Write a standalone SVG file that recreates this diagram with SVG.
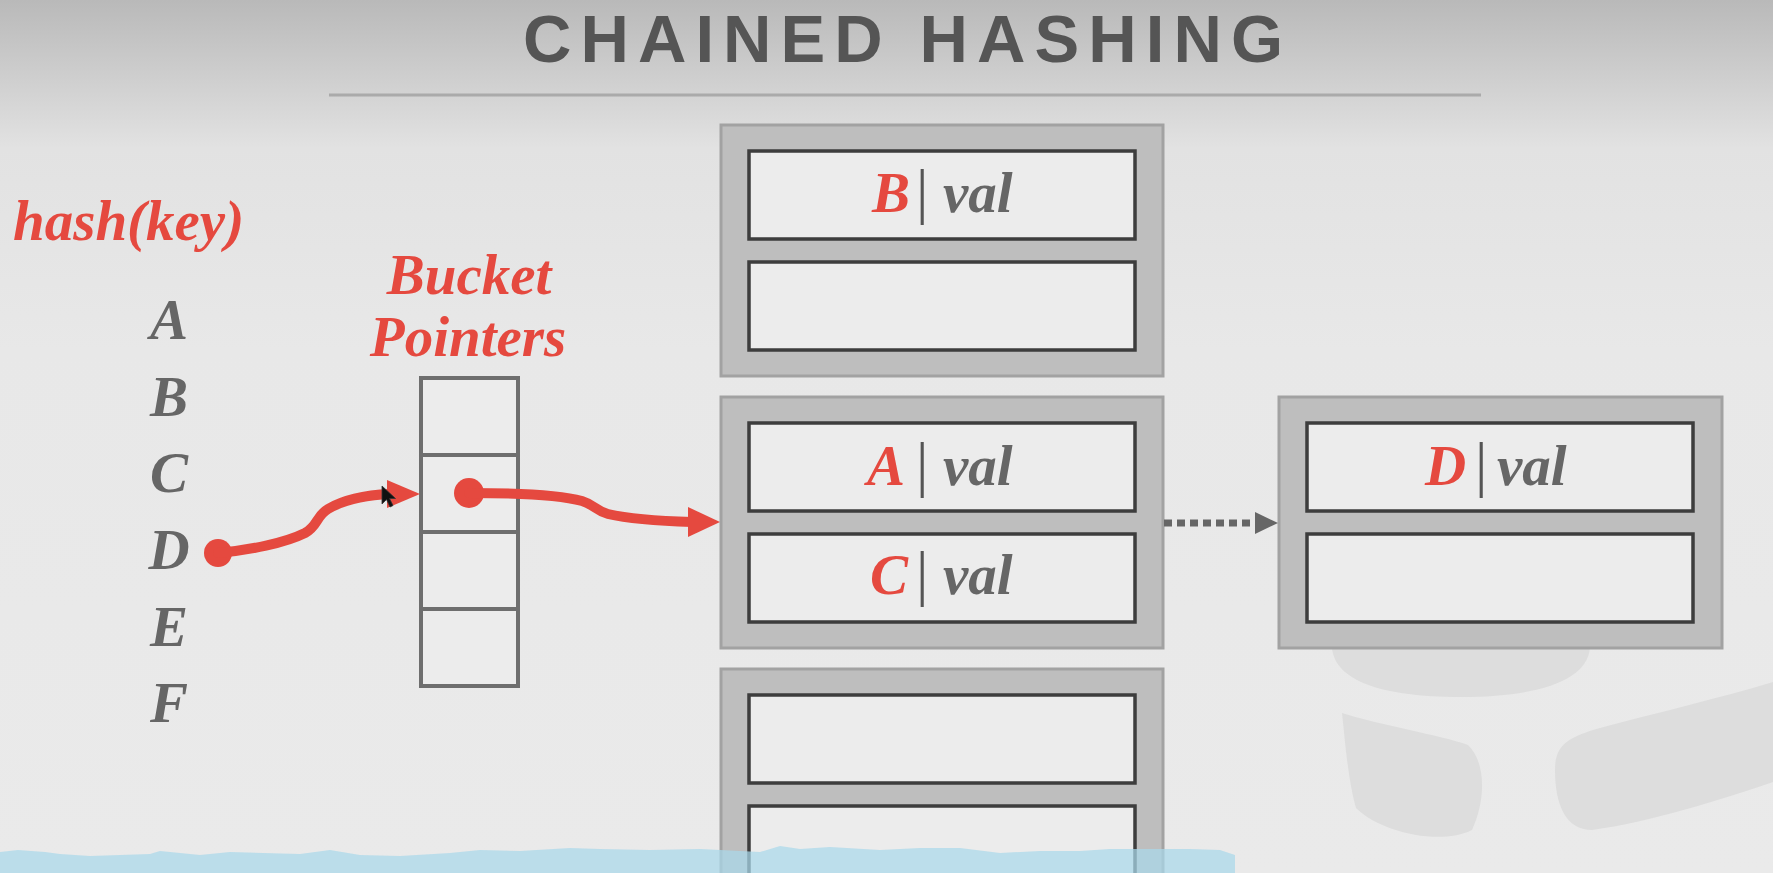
<svg xmlns="http://www.w3.org/2000/svg" width="1773" height="873" viewBox="0 0 1773 873">
<defs>
<linearGradient id="bg" x1="0" y1="0" x2="0" y2="873" gradientUnits="userSpaceOnUse">
<stop offset="0" stop-color="#b9b9b9"/>
<stop offset="0.17" stop-color="#e2e2e2"/>
<stop offset="0.4" stop-color="#e8e8e8"/>
<stop offset="1" stop-color="#eaeaea"/>
</linearGradient>
<style>
.title{font-family:"Liberation Sans",Arial,sans-serif;font-weight:bold;font-size:67px;fill:#555555}
.lbl{font-family:"Liberation Serif",serif;font-style:italic;font-weight:bold;font-size:57px}
.red{fill:#e5493f}
.gray{fill:#666666}
.bar{font-family:"Liberation Serif",serif;font-style:normal;font-weight:normal;font-size:62px;fill:#555555}
.outer{fill:#bebebe;stroke:#a2a2a2;stroke-width:3}
.slot{fill:#ececec;stroke:#3d3d3d;stroke-width:3.5}
.cell{fill:#ececec;stroke:#6e6e6e;stroke-width:4}
.redline{fill:none;stroke:#e5493f;stroke-width:10;stroke-linecap:round}
.wm{fill:#dddddd}
</style>
</defs>
<rect x="0" y="0" width="1773" height="873" fill="url(#bg)"/>
<g id="watermark">
<path class="wm" d="M1332,648 L1590,648 C1587,680 1540,697 1460,697 C1380,697 1335,680 1332,648 Z"/>
<path class="wm" d="M1342,713 C1380,725 1440,735 1468,745 C1486,762 1486,800 1472,830 C1440,846 1380,832 1356,808 C1348,780 1345,740 1342,713 Z"/>
<path class="wm" d="M1555,770 C1555,745 1568,737 1600,728 C1660,712 1720,698 1773,682 L1773,782 C1720,800 1650,822 1592,830 C1566,830 1555,805 1555,770 Z"/>
</g>
<g id="title">
<text class="title" x="523" y="62" textLength="760" lengthAdjust="spacing">CHAINED HASHING</text>
<line x1="329" y1="95" x2="1481" y2="95" stroke="#aaaaaa" stroke-width="3"/>
</g>
<g id="hash-label">
<text class="lbl red" x="13" y="240" font-size="58">hash(key)</text>
</g>
<g id="keys">
<text class="lbl gray" x="169" y="339" text-anchor="middle">A</text>
<text class="lbl gray" x="169" y="416" text-anchor="middle">B</text>
<text class="lbl gray" x="169" y="492" text-anchor="middle">C</text>
<text class="lbl gray" x="169" y="569" text-anchor="middle">D</text>
<text class="lbl gray" x="169" y="646" text-anchor="middle">E</text>
<text class="lbl gray" x="169" y="722" text-anchor="middle">F</text>
</g>
<g id="bucket-pointers">
<text class="lbl red" x="469" y="294" text-anchor="middle">Bucket</text>
<text class="lbl red" x="468" y="356" text-anchor="middle">Pointers</text>
<rect class="cell" x="421" y="378" width="97" height="77"/>
<rect class="cell" x="421" y="455" width="97" height="77"/>
<rect class="cell" x="421" y="532" width="97" height="77"/>
<rect class="cell" x="421" y="609" width="97" height="77"/>
</g>
<g id="bucket1">
<rect class="outer" x="721" y="125" width="442" height="251"/>
<rect class="slot" x="749" y="151" width="386" height="88"/>
<rect class="slot" x="749" y="262" width="386" height="88"/>
<text class="lbl" y="212"><tspan class="red" x="872">B</tspan><tspan class="bar" x="916">|</tspan><tspan class="gray" x="943">val</tspan></text>
</g>
<g id="bucket2">
<rect class="outer" x="721" y="397" width="442" height="251"/>
<rect class="slot" x="749" y="423" width="386" height="88"/>
<rect class="slot" x="749" y="534" width="386" height="88"/>
<text class="lbl" y="485"><tspan class="red" x="867">A</tspan><tspan class="bar" x="916">|</tspan><tspan class="gray" x="943">val</tspan></text>
<text class="lbl" y="594"><tspan class="red" x="870">C</tspan><tspan class="bar" x="916">|</tspan><tspan class="gray" x="943">val</tspan></text>
</g>
<g id="bucket3">
<rect class="outer" x="721" y="669" width="442" height="251"/>
<rect class="slot" x="749" y="695" width="386" height="88"/>
<rect class="slot" x="749" y="806" width="386" height="88"/>
</g>
<g id="overflow-bucket">
<rect class="outer" x="1279" y="397" width="443" height="251"/>
<rect class="slot" x="1307" y="423" width="386" height="88"/>
<rect class="slot" x="1307" y="534" width="386" height="88"/>
<text class="lbl" y="485"><tspan class="red" x="1425">D</tspan><tspan class="bar" x="1475">|</tspan><tspan class="gray" x="1497">val</tspan></text>
</g>
<g id="connectors">
<circle cx="218" cy="553" r="14" fill="#e5493f"/>
<path class="redline" d="M218,553 C250,550 285,543 305,533 C318,526 316,516 328,509 C345,499 365,495 390,494"/>
<polygon points="387,480 420,494 387,508" fill="#e5493f"/>
<circle cx="469" cy="493" r="15" fill="#e5493f"/>
<path class="redline" d="M469,493 C510,493 560,495 582,501 C595,505 596,511 608,514 C630,519 660,521 692,522"/>
<polygon points="688,507 720,522 688,537" fill="#e5493f"/>
<line x1="1164" y1="523" x2="1256" y2="523" stroke="#666666" stroke-width="7" stroke-dasharray="8 5"/>
<polygon points="1255,512 1278,523 1255,534" fill="#666666"/>
</g>
<g id="cursor">
<polygon points="382,486 382,504 386.5,499.5 390,507 393,505.5 389.5,498.5 395.5,498.5" fill="#111111" stroke="#333333" stroke-width="0.8"/>
</g>
<g id="video-band">
<path d="M0,852 L18,850 L45,852 L60,854 L90,856 L150,854 L160,851 L200,855 L230,852 L300,854 L330,850 L360,855 L400,856 L450,853 L480,850 L520,851 L570,848 L600,849 L650,850 L700,849 L760,852 L780,846 L800,849 L830,847 L880,850 L920,848 L960,848 L1000,853 L1040,851 L1080,851 L1110,849 L1190,849 L1220,850 L1235,855 L1235,873 L0,873 Z" fill="#a9d8ea" opacity="0.72"/>
</g>
</svg>
